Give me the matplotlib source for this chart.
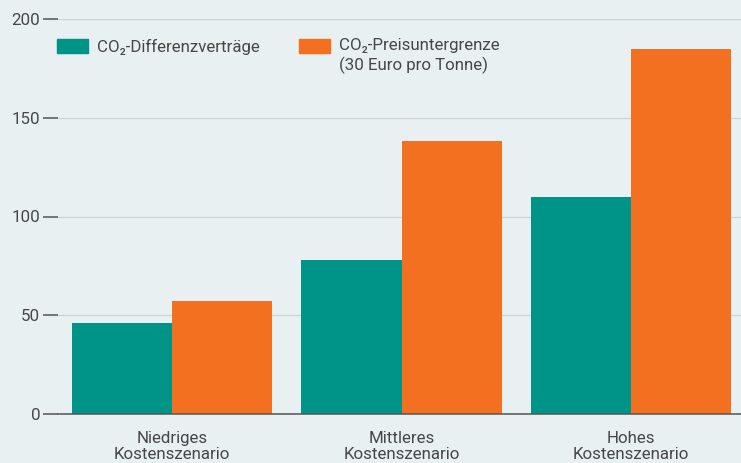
import matplotlib
matplotlib.use("Agg")
import matplotlib.pyplot as plt
from matplotlib.patches import Patch, Rectangle
from matplotlib.legend_handler import HandlerPatch
import numpy as np

categories = ["Niedriges\nKostenszenario", "Mittleres\nKostenszenario", "Hohes\nKostenszenario"]
series_names = ["CO₂-Differenzverträge\n ", "CO₂-Preisuntergrenze\n(30 Euro pro Tonne)"]
diff_values = [46, 78, 110]
floor_values = [57, 138, 185]
yticks = [0, 50, 100, 150, 200]

BG = "#E8F0F1"
TEAL = "#009488"
ORANGE = "#F37021"
TXT = "#474747"
GRID = "#CDD3D5"
FS = 12.2

plt.rcParams['font.family'] = ['Roboto', 'DejaVu Sans']

W, H = 741, 463
fig = plt.figure(figsize=(W/100, H/100), dpi=100, facecolor=BG)
ax = fig.add_axes([58/W, (H-414)/H, (W-58)/W, (414-19)/H])
ax.set_facecolor(BG)

x = np.arange(len(categories))
bw = 0.437
ax.bar(x - bw/2, diff_values, width=bw, color=TEAL, zorder=3)
ax.bar(x + bw/2, floor_values, width=bw, color=ORANGE, zorder=3)

ax.set_xlim(-0.498, 2.48)
ax.set_ylim(0, 200)
ax.set_yticks(yticks)
ax.set_yticklabels([str(v) for v in yticks], fontsize=FS, color=TXT)
ax.tick_params(axis='y', length=10.8, width=1.1, color="#555555", pad=2)
ax.set_xticks(x)
ax.set_xticklabels(categories, fontsize=FS, color=TXT, linespacing=1.13)
ax.tick_params(axis='x', length=0, pad=12)
ax.yaxis.grid(True, color=GRID, linewidth=0.9, zorder=0)
ax.axhline(0, color="#555555", linewidth=1.1, zorder=4, clip_on=False)
for s in ax.spines.values():
    s.set_visible(False)


def shifted(legend, orig_handle, xdescent, ydescent, width, height, fontsize):
    return Rectangle((-xdescent, -ydescent + 0.6 * fontsize), width, height)


handles = [Patch(color=TEAL), Patch(color=ORANGE)]
hm = {h: HandlerPatch(patch_func=shifted) for h in handles}
leg = ax.legend(handles, series_names, ncol=2, loc='upper left',
                bbox_to_anchor=(57/W, (H-38)/H), bbox_transform=fig.transFigure,
                frameon=False, fontsize=FS, handlelength=1.8, handleheight=0.85,
                handletextpad=0.55, columnspacing=2.35, labelcolor=TXT,
                borderaxespad=0, borderpad=0, handler_map=hm)
for t in leg.get_texts():
    t.set_linespacing(1.25)

fig.savefig("out.png", dpi=100, facecolor=BG)
